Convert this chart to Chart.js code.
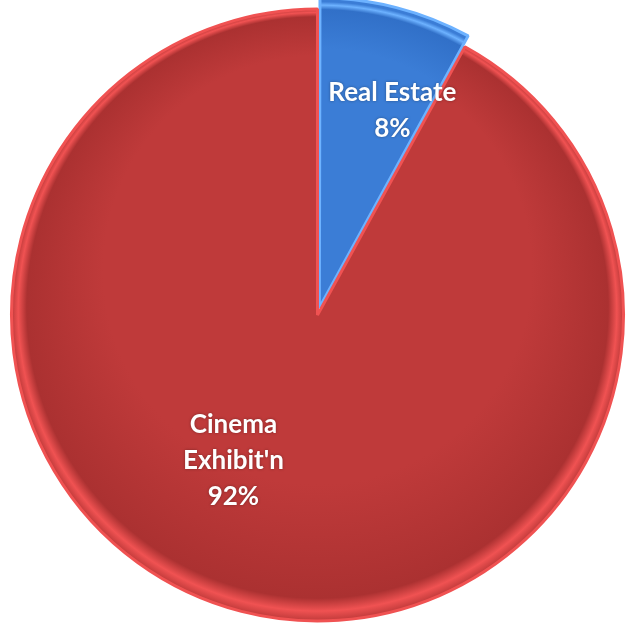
<!DOCTYPE html>
<html>
<head>
<meta charset="utf-8">
<script src="https://cdn.jsdelivr.net/npm/chart.js@4.4.0/dist/chart.umd.min.js"></script>
<style>
  html, body { margin: 0; padding: 0; background: #fff; }
  #wrap { width: 627px; height: 626px; }
</style>
</head>
<body>
<div id="wrap"><canvas id="pieChart"></canvas></div>
<script>
// Segment data
const categories = ["Real Estate", "Cinema\nExhibit'n"]
const shares = [8, 92]
const baseColors = ["#3b7dd6", "#bf3a3a"]
const darkColors = ["#3170c8", "#ab3131"]
const edgeColors = ["#6db2ff", "#f05252"]

const PIE_RADIUS = 306

// label placement: angle fraction inside the slice and radius fraction
const labelPlace = [
  { t: 0.7, r: 0.71 },
  { t: 0.547, r: 0.55 },
]

function sliceFill(context) {
  const chart = context.chart
  const area = chart.chartArea
  const i = context.dataIndex
  if (!area) return baseColors[i]
  const x = (area.left + area.right) / 2
  const y = (area.top + area.bottom) / 2
  const g = chart.ctx.createRadialGradient(x, y - 150, 0, x, y, PIE_RADIUS)
  g.addColorStop(0, baseColors[i])
  g.addColorStop(0.7, baseColors[i])
  g.addColorStop(0.95, darkColors[i])
  g.addColorStop(0.978, edgeColors[i])
  g.addColorStop(1, baseColors[i])
  return g
}

const sliceLabels = {
  id: "sliceLabels",
  afterDatasetsDraw(chart) {
    const ctx = chart.ctx
    const meta = chart.getDatasetMeta(0)
    ctx.save()
    ctx.fillStyle = "#ffffff"
    ctx.font = "bold 26px Lato, 'Open Sans', sans-serif"
    ctx.textAlign = "center"
    ctx.textBaseline = "middle"
    ctx.shadowColor = "rgba(0,0,0,0.35)"
    ctx.shadowBlur = 3
    meta.data.forEach((arc, i) => {
      const p = arc.getProps(["x", "y", "startAngle", "endAngle", "outerRadius"], true)
      const place = labelPlace[i]
      const a = p.startAngle + (p.endAngle - p.startAngle) * place.t
      const cx = p.x + Math.cos(a) * p.outerRadius * place.r
      const cy = p.y + Math.sin(a) * p.outerRadius * place.r
      const lines = (categories[i] + "\n" + shares[i] + "%").split("\n")
      const lh = 36
      lines.forEach((line, k) => {
        ctx.fillText(line, cx, cy + (k - (lines.length - 1) / 2) * lh)
      })
    })
    ctx.restore()
  },
}

new Chart(document.getElementById("pieChart"), {
  type: "pie",
  data: {
    labels: categories,
    datasets: [
      {
        data: shares,
        backgroundColor: sliceFill,
        borderColor: edgeColors,
        borderWidth: 3,
        offset: [30, 0],
      },
    ],
  },
  options: {
    responsive: true,
    maintainAspectRatio: false,
    animation: false,
    radius: PIE_RADIUS,
    layout: {
      padding: { left: 8, right: 0, top: 4, bottom: 0 },
    },
    plugins: {
      legend: { display: false },
      tooltip: { enabled: false },
    },
  },
  plugins: [sliceLabels],
})
</script>
</body>
</html>
